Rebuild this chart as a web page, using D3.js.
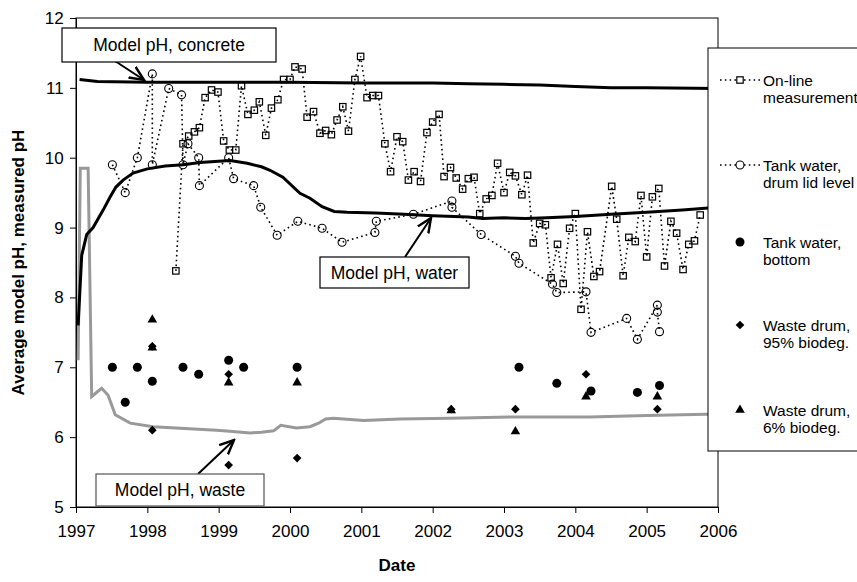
<!DOCTYPE html>
<html><head><meta charset="utf-8">
<script src="https://cdn.jsdelivr.net/npm/d3@7"></script>
<style>body{margin:0;background:#fff}svg{display:block}text{font-family:"Liberation Sans",Arial,sans-serif}</style>
</head><body><svg id="c" width="857" height="582"></svg>
<script>
// ---- data ----
const xTicks = [1997,1998,1999,2000,2001,2002,2003,2004,2005,2006];
const yTicks = [5,6,7,8,9,10,11,12];
const modelConcrete = [[1997.05,11.12],[1997.3,11.09],[1998,11.08],[1999,11.08],[2000,11.08],[2001,11.07],[2002,11.07],[2002.5,11.06],[2003,11.05],[2003.5,11.04],[2004,11.02],[2004.5,11.0],[2005,11.0],[2006,10.99]];
const modelWater = [[1997.03,7.6],[1997.08,8.6],[1997.15,8.9],[1997.24,9.0],[1997.38,9.25],[1997.48,9.44],[1997.56,9.58],[1997.66,9.68],[1997.8,9.78],[1998.0,9.84],[1998.25,9.88],[1998.5,9.9],[1998.74,9.93],[1999.0,9.95],[1999.16,9.96],[1999.4,9.92],[1999.6,9.87],[1999.72,9.82],[1999.9,9.72],[2000.14,9.49],[2000.28,9.42],[2000.45,9.3],[2000.62,9.23],[2000.8,9.22],[2001.2,9.21],[2001.6,9.19],[2002.0,9.17],[2002.5,9.15],[2002.7,9.13],[2003.0,9.14],[2003.3,9.13],[2003.6,9.14],[2004.0,9.16],[2004.5,9.19],[2005.0,9.22],[2005.5,9.25],[2006,9.29]];
const modelWaste = [[1997.03,7.1],[1997.06,9.85],[1997.17,9.85],[1997.22,6.58],[1997.3,6.65],[1997.36,6.7],[1997.45,6.6],[1997.55,6.32],[1997.76,6.2],[1998.08,6.15],[1998.97,6.1],[1999.2,6.08],[1999.44,6.06],[1999.6,6.07],[1999.77,6.09],[1999.87,6.17],[2000.09,6.13],[2000.28,6.15],[2000.4,6.2],[2000.5,6.26],[2000.61,6.27],[2001.03,6.24],[2001.54,6.26],[2002.24,6.27],[2003.22,6.29],[2004.2,6.29],[2005,6.31],[2006,6.33]];
const onlineMeas = [[1998.40,8.38],[1998.50,10.20],[1998.58,10.31],[1998.66,10.37],[1998.73,10.43],[1998.81,10.86],[1998.90,10.97],[1998.99,10.94],[1999.07,10.24],[1999.15,10.11],[1999.24,10.11],[1999.32,11.03],[1999.41,10.62],[1999.50,10.68],[1999.57,10.80],[1999.66,10.32],[1999.74,10.71],[1999.83,10.83],[1999.91,11.12],[2000.00,11.12],[2000.07,11.30],[2000.17,11.27],[2000.24,10.58],[2000.33,10.66],[2000.42,10.35],[2000.50,10.39],[2000.58,10.33],[2000.66,10.54],[2000.74,10.73],[2000.82,10.38],[2000.91,11.12],[2000.99,11.45],[2001.08,10.86],[2001.16,10.89],[2001.24,10.89],[2001.33,10.20],[2001.41,9.80],[2001.50,10.30],[2001.58,10.23],[2001.66,9.68],[2001.74,9.80],[2001.83,9.66],[2001.92,10.36],[2002.00,10.51],[2002.09,10.62],[2002.16,9.73],[2002.25,9.86],[2002.33,9.71],[2002.42,9.55],[2002.50,9.70],[2002.58,9.72],[2002.66,9.20],[2002.75,9.41],[2002.83,9.46],[2002.91,9.92],[2003.00,9.50],[2003.08,9.79],[2003.16,9.74],[2003.25,9.47],[2003.33,9.75],[2003.41,8.78],[2003.50,9.06],[2003.58,9.04],[2003.66,8.28],[2003.75,8.76],[2003.83,8.20],[2003.92,8.99],[2004.00,9.20],[2004.08,7.83],[2004.17,8.94],[2004.26,8.30],[2004.34,8.37],[2004.51,9.59],[2004.58,9.12],[2004.67,8.31],[2004.75,8.86],[2004.84,8.80],[2004.92,9.46],[2005.00,8.58],[2005.08,9.44],[2005.17,9.56],[2005.25,8.45],[2005.34,9.09],[2005.42,8.92],[2005.51,8.40],[2005.59,8.76],[2005.67,8.81],[2005.75,9.18]];
const tankLid = [[1997.51,9.9],[1997.69,9.5],[1997.86,10.0],[1998.07,11.2],[1998.07,9.9],[1998.30,10.99],[1998.48,10.9],[1998.50,9.9],[1998.57,10.2],[1998.72,10.0],[1998.73,9.6],[1999.14,10.0],[1999.21,9.7],[1999.49,9.6],[1999.59,9.29],[1999.82,8.89],[2000.11,9.09],[2000.45,8.99],[2000.73,8.79],[2001.19,8.93],[2001.21,9.09],[2001.73,9.19],[2002.27,9.38],[2002.27,9.29],[2002.68,8.9],[2003.16,8.59],[2003.21,8.49],[2003.68,8.19],[2003.74,8.07],[2004.15,8.08],[2004.22,7.5],[2004.72,7.7],[2004.87,7.4],[2005.15,7.89],[2005.15,7.79],[2005.18,7.51]];
const tankBottom = [[1997.51,7.0],[1997.69,6.5],[1997.86,7.0],[1998.07,6.8],[1998.50,7.0],[1998.72,6.9],[1999.14,7.1],[1999.35,7.0],[2000.10,7.0],[2003.21,7.0],[2003.74,6.77],[2004.22,6.66],[2004.87,6.64],[2005.18,6.74]];
const drum95 = [[1998.07,7.3],[1998.07,6.1],[1999.14,6.9],[1999.14,5.6],[2000.10,5.7],[2002.26,6.4],[2003.16,6.4],[2004.15,6.9],[2005.15,6.4]];
const drum6 = [[1998.07,7.7],[1998.07,7.3],[1999.14,6.8],[2000.10,6.8],[2002.26,6.4],[2003.16,6.1],[2004.15,6.6],[2005.15,6.6]];
const legendLabels = [["On-line","measurement"],["Tank water,","drum lid level"],["Tank water,","bottom"],["Waste drum,","95% biodeg."],["Waste drum,","6% biodeg."]];

// ---- layout ----
const svg = d3.select("#c");
const L=76,R=718,T=18,B=507;
const x = d3.scaleLinear().domain([1997,2006]).range([L,R]);
const y = d3.scaleLinear().domain([5,12]).range([B,T]);

svg.append("rect").attr("x",L).attr("y",T).attr("width",R-L).attr("height",B-T).attr("fill","none").attr("stroke","#000").attr("stroke-width",1);

const xa = svg.append("g").attr("transform",`translate(0,${B})`).call(d3.axisBottom(x).tickValues(xTicks).tickFormat(d3.format("d")).tickSize(6).tickSizeOuter(0));
const ya = svg.append("g").attr("transform",`translate(${L},0)`).call(d3.axisLeft(y).tickValues(yTicks).tickFormat(d3.format("d")).tickSize(6).tickSizeOuter(0));
[xa,ya].forEach(a=>{a.selectAll("text").attr("font-size",17).attr("fill","#000").attr("font-family",'"Liberation Sans",Arial,sans-serif');a.selectAll("line,path").attr("stroke","#000");});
xa.selectAll("text").attr("dy","1.25em");
ya.selectAll("text").attr("dx","-0.2em");

svg.append("text").attr("x",(L+R)/2).attr("y",571).attr("text-anchor","middle").attr("font-size",17).attr("font-weight","bold").text("Date");
svg.append("text").attr("transform",`translate(24,${(T+B)/2}) rotate(-90)`).attr("text-anchor","middle").attr("font-size",17).attr("font-weight","bold").text("Average model pH, measured pH");

const line = d3.line().x(d=>x(d[0])).y(d=>y(d[1]));
const plot = svg.append("g");
plot.append("path").datum(modelWaste).attr("d",line).attr("fill","none").attr("stroke","#999").attr("stroke-width",3);
plot.append("path").datum(modelConcrete).attr("d",line).attr("fill","none").attr("stroke","#000").attr("stroke-width",3);
plot.append("path").datum(modelWater).attr("d",line).attr("fill","none").attr("stroke","#000").attr("stroke-width",3);
plot.append("path").datum(onlineMeas).attr("d",line).attr("fill","none").attr("stroke","#000").attr("stroke-width",1.6).attr("stroke-dasharray","1.6,3.2");
plot.append("path").datum(tankLid).attr("d",line).attr("fill","none").attr("stroke","#000").attr("stroke-width",1.6).attr("stroke-dasharray","1.6,3.2");

plot.selectAll(".sq").data(onlineMeas).join("rect").attr("x",d=>x(d[0])-3.2).attr("y",d=>y(d[1])-3.2).attr("width",6.4).attr("height",6.4).attr("fill","none").attr("stroke","#000").attr("stroke-width",1.2);
plot.selectAll(".oc").data(tankLid).join("circle").attr("cx",d=>x(d[0])).attr("cy",d=>y(d[1])).attr("r",4).attr("fill","none").attr("stroke","#000").attr("stroke-width",1.1);
plot.selectAll(".fc").data(tankBottom).join("circle").attr("cx",d=>x(d[0])).attr("cy",d=>y(d[1])).attr("r",4.5).attr("fill","#000");
const diamond = d3.symbol().type(d3.symbolDiamond2).size(48);
plot.selectAll(".dm").data(drum95).join("path").attr("transform",d=>`translate(${x(d[0])},${y(d[1])})`).attr("d",diamond).attr("fill","#000");
const tri = d3.symbol().type(d3.symbolTriangle).size(40);
plot.selectAll(".tr").data(drum6).join("path").attr("transform",d=>`translate(${x(d[0])},${y(d[1]-0.02)})`).attr("d",tri).attr("fill","#000");

svg.append("defs").append("marker").attr("id","ah").attr("viewBox","0 0 10 10").attr("refX",9).attr("refY",5).attr("markerWidth",8).attr("markerHeight",8).attr("orient","auto")
  .append("path").attr("d","M0,1 L9,5 L0,9").attr("fill","none").attr("stroke","#000").attr("stroke-width",1.5);
function note(bx,by,bw,bh,label,ax1,ay1,ax2,ay2,col){
  svg.append("line").attr("x1",ax1).attr("y1",ay1).attr("x2",ax2).attr("y2",ay2).attr("stroke","#000").attr("stroke-width",2).attr("marker-end","url(#ah)");
  svg.append("rect").attr("x",bx).attr("y",by).attr("width",bw).attr("height",bh).attr("fill","#fff").attr("stroke",col).attr("stroke-width",1.2);
  svg.append("text").attr("x",bx+bw/2).attr("y",by+bh/2+6).attr("text-anchor","middle").attr("font-size",17.5).text(label);
}
note(62,28,214,34,"Model pH, concrete",115,61,144,80,"#000");
note(320,257,149,31,"Model pH, water",405,257,431,218,"#000");
note(96,474,168,32,"Model pH, waste",198,474,234,440,"#555");

const lg = svg.append("g");
lg.append("rect").attr("x",708).attr("y",48).attr("width",160).attr("height",403).attr("fill","#fff").attr("stroke","#000").attr("stroke-width",1);
const ly = [80,165,242,325,410];
legendLabels.forEach((lab,i)=>{
  const t = lg.append("text").attr("x",763).attr("y",ly[i]+6).attr("font-size",15.5);
  t.append("tspan").attr("x",763).text(lab[0]);
  t.append("tspan").attr("x",763).attr("dy",17).text(lab[1]);
});
const sx=740;
[0,1].forEach(i=>lg.append("line").attr("x1",sx-20).attr("x2",sx+20).attr("y1",ly[i]).attr("y2",ly[i]).attr("stroke","#000").attr("stroke-width",1.6).attr("stroke-dasharray","1.6,3.2"));
lg.append("rect").attr("x",sx-3.2).attr("y",ly[0]-3.2).attr("width",6.4).attr("height",6.4).attr("fill","#fff").attr("stroke","#000").attr("stroke-width",1.2);
lg.append("circle").attr("cx",sx).attr("cy",ly[1]).attr("r",4).attr("fill","#fff").attr("stroke","#000").attr("stroke-width",1.1);
lg.append("circle").attr("cx",sx).attr("cy",ly[2]).attr("r",4.5).attr("fill","#000");
lg.append("path").attr("transform",`translate(${sx},${ly[3]})`).attr("d",diamond).attr("fill","#000");
lg.append("path").attr("transform",`translate(${sx},${ly[4]})`).attr("d",tri).attr("fill","#000");
</script></body></html>
